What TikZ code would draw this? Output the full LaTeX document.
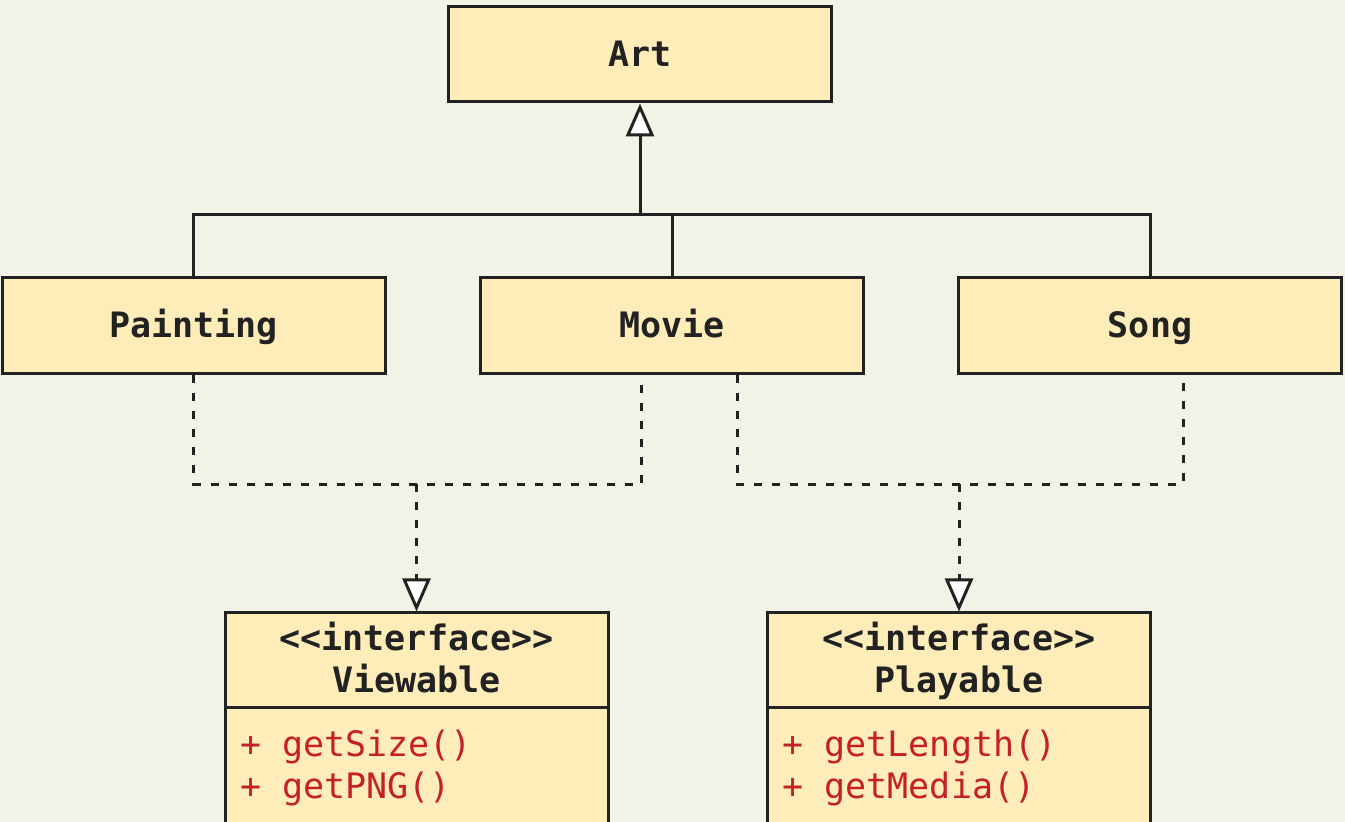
\documentclass[tikz,border=0pt]{standalone}
\usepackage{fontspec}
\setmonofont{DejaVu Sans Mono}
\usepackage{tikz}
\usetikzlibrary{shapes,arrows,arrows.meta,positioning,calc}
\definecolor{paper}{RGB}{243,242,230}
\definecolor{boxfill}{RGB}{255,237,185}
\definecolor{ink}{RGB}{34,34,34}
\definecolor{opred}{RGB}{196,32,40}
\newcommand\opline[1]{+\hspace{0.602em}#1}
\tikzstyle{umlclass} = [draw=ink, fill=boxfill, text=ink, line width=1.5pt, minimum width=191.5pt,
    minimum height=47.5pt, inner sep=0pt, font=\ttfamily\bfseries\fontsize{17.5}{21}\selectfont]
\tikzstyle{umlname} = [umlclass, minimum height=48pt, text height=15.8pt, text depth=4.2pt]
\tikzstyle{umlops} = [umlclass, font=\ttfamily\fontsize{17.5}{21}\selectfont, text=opred,
    align=left, text width=176.5pt, inner xsep=7.5pt, minimum height=60pt]
\tikzstyle{link} = [draw=ink, line width=1.5pt]
\tikzstyle{dlink} = [link, dash pattern=on 4pt off 5pt]
\tikzstyle{inherit} = [link, -{Triangle[length=16.5pt,width=14pt,fill=white]}]
\tikzstyle{realize} = [dlink, -{Triangle[length=16.5pt,width=14pt,fill=white]}]

\begin{document}
\begin{tikzpicture}[node distance = 239.25pt, auto]
  \path[use as bounding box, fill=paper] (0,0) rectangle (672.5pt,-411pt);
  \node [umlname, minimum height=47.5pt] (Art) at (320pt,-27.25pt) {Art};
  \node [umlname] (Painting) at (96.75pt,-163pt) {Painting};
  \node [umlname, right of=Painting] (Movie) {Movie};
  \node [umlname, right of=Movie, node distance=239pt] (Song) {Song};
  \node [umlclass, align=center] (vhead) at (208.25pt,-330.25pt)
    {\rule{0pt}{17pt}<<interface>>\\Viewable\strut};
  \node [umlops, below of=vhead, node distance=53.75pt] (vops)
    {\opline{getSize()}\\\opline{getPNG()}};
  \node [umlclass, align=center, right of=vhead, node distance=271.25pt] (phead)
    {\rule{0pt}{17pt}<<interface>>\\Playable\strut};
  \node [umlops, below of=phead, node distance=53.75pt] (pops)
    {\opline{getLength()}\\\opline{getMedia()}};

  \coordinate (bus) at ($(Art.south)+(0,-55.5pt)$);
  \draw [inherit] (bus) -- (Art.south);
  \draw [link] (Painting.north) |- (bus) -| (Song.north);
  \draw [link] (Movie.north) -- (Movie.north |- bus);

  \coordinate (vjoin) at ($(vhead.north)+(0,63.5pt)$);
  \coordinate (pjoin) at ($(phead.north)+(0,63.5pt)$);
  \coordinate (mvL) at ($(Movie.south)+(-15.5pt,0)$);
  \coordinate (mvR) at ($(Movie.south)+(32.5pt,0)$);
  \coordinate (sgR) at ($(Song.south)+(16.5pt,0)$);
  \draw [dlink] (Painting.south) |- (vjoin) -| (mvL);
  \draw [realize] (vjoin) -- (vhead.north);
  \draw [dlink] (mvR) |- (pjoin) -| (sgR);
  \draw [realize] (pjoin) -- (phead.north);
\end{tikzpicture}
\end{document}
